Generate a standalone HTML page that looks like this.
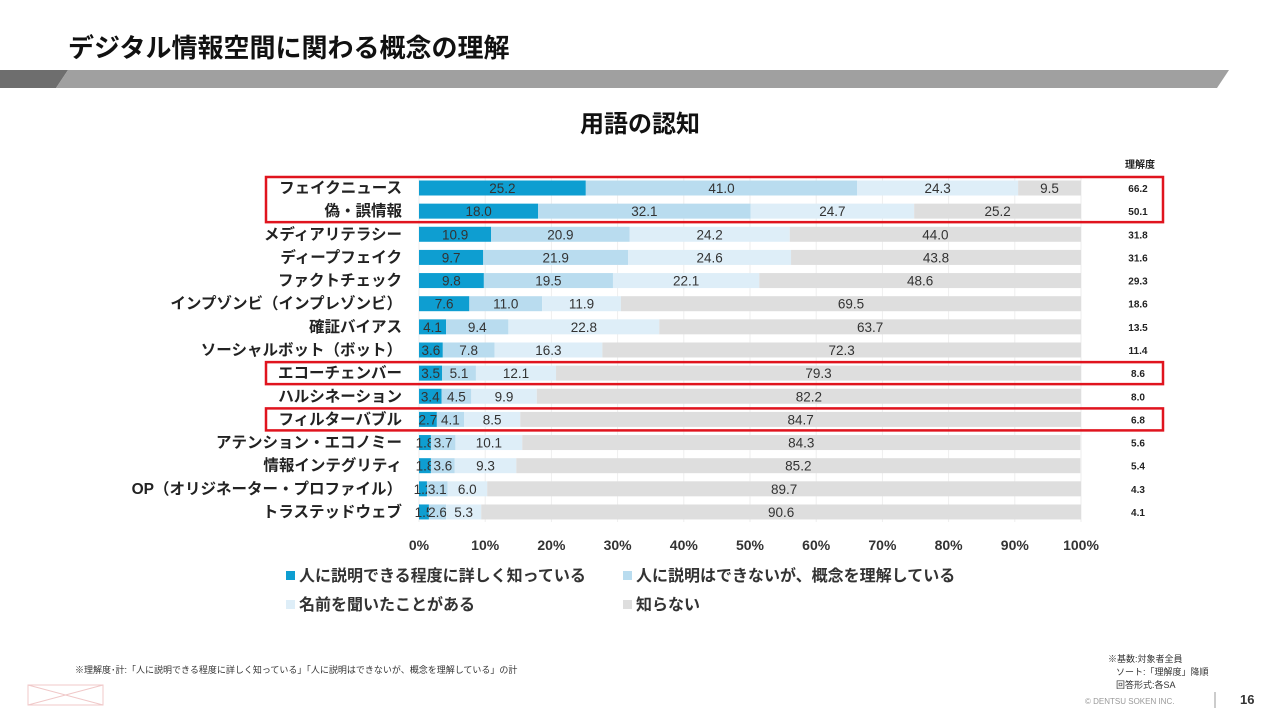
<!DOCTYPE html>
<html><head><meta charset="utf-8">
<style>
body{margin:0;width:1280px;height:720px;background:#fff;overflow:hidden;font-family:"Liberation Sans","Noto Sans CJK JP",sans-serif;}
svg text{font-family:"Liberation Sans","Noto Sans CJK JP",sans-serif;}
</style></head><body>
<svg width="1280" height="720" viewBox="0 0 1280 720">
<text x="68" y="57" font-size="26" font-weight="bold" fill="#111">デジタル情報空間に関わる概念の理解</text>
<polygon points="0,70 68,70 56,88 0,88" fill="#6e6e6e"/>
<polygon points="68,70 1229,70 1217,88 56,88" fill="#a0a0a0"/>
<text x="640" y="132" font-size="24" font-weight="bold" text-anchor="middle" fill="#111">用語の認知</text>
<text x="1140" y="168" font-size="10" text-anchor="middle" fill="#222" font-weight="bold">理解度</text>
<g id="chart"></g>
<g>
<rect x="286" y="571" width="9" height="9" fill="#0e9ed1"/>
<text x="299" y="581" font-size="16" font-weight="bold" fill="#333">人に説明できる程度に詳しく知っている</text>
<rect x="623" y="571" width="9" height="9" fill="#b9dcef"/>
<text x="636" y="581" font-size="16" font-weight="bold" fill="#333">人に説明はできないが、概念を理解している</text>
<rect x="286" y="600" width="9" height="9" fill="#deeef8"/>
<text x="299" y="610" font-size="16" font-weight="bold" fill="#333">名前を聞いたことがある</text>
<rect x="623" y="600" width="9" height="9" fill="#dedede"/>
<text x="636" y="610" font-size="16" font-weight="bold" fill="#333">知らない</text>
</g>
<text x="75" y="673" font-size="9" fill="#333">※理解度･計:「人に説明できる程度に詳しく知っている」「人に説明はできないが、概念を理解している」の計</text>
<text x="1108" y="662" font-size="9" fill="#333">※基数:対象者全員</text>
<text x="1116" y="675" font-size="9" fill="#333">ソート:「理解度」降順</text>
<text x="1116" y="688" font-size="9" fill="#333">回答形式:各SA</text>
<text x="1085" y="704" font-size="8" fill="#999">© DENTSU SOKEN INC.</text>
<line x1="1215" y1="692" x2="1215" y2="708" stroke="#999"/>
<text x="1240" y="704" font-size="13" font-weight="bold" fill="#333">16</text>
<g stroke="#f0c8c8" fill="none"><rect x="28" y="685" width="75" height="20"/><line x1="28" y1="685" x2="103" y2="705"/><line x1="28" y1="705" x2="103" y2="685"/></g>
</svg>
<script>
const categories=["フェイクニュース","偽・誤情報","メディアリテラシー","ディープフェイク","ファクトチェック","インプゾンビ（インプレゾンビ）","確証バイアス","ソーシャルボット（ボット）","エコーチェンバー","ハルシネーション","フィルターバブル","アテンション・エコノミー","情報インテグリティ","OP（オリジネーター・プロファイル）","トラステッドウェブ"];
const detailed=[25.2,18.0,10.9,9.7,9.8,7.6,4.1,3.6,3.5,3.4,2.7,1.8,1.8,1.2,1.5];
const understand=[41.0,32.1,20.9,21.9,19.5,11.0,9.4,7.8,5.1,4.5,4.1,3.7,3.6,3.1,2.6];
const heard=[24.3,24.7,24.2,24.6,22.1,11.9,22.8,16.3,12.1,9.9,8.5,10.1,9.3,6.0,5.3];
const unknown=[9.5,25.2,44.0,43.8,48.6,69.5,63.7,72.3,79.3,82.2,84.7,84.3,85.2,89.7,90.6];
const rikaido=[66.2,50.1,31.8,31.6,29.3,18.6,13.5,11.4,8.6,8.0,6.8,5.6,5.4,4.3,4.1];
const ticks=[0,10,20,30,40,50,60,70,80,90,100];
const highlighted=[[0,1],[8,8],[10,10]];
const NS="http://www.w3.org/2000/svg";
const g=document.getElementById('chart');
const x0=419,x1=1081,y0=188,step=23.14,bh=15;
const xs=v=>x0+(x1-x0)*v/100;
const ys=i=>y0+i*step;
function mk(t,a){const e=document.createElementNS(NS,t);for(const k in a)e.setAttribute(k,a[k]);g.appendChild(e);return e;}
ticks.forEach(t=>{
 const l=mk('line',{x1:xs(t),x2:xs(t),y1:178,y2:522,stroke:'#eeeeee'});
 
 
 const tx=mk('text',{x:xs(t),y:550,'font-size':14,'font-weight':'bold','text-anchor':'middle',fill:'#333'});
 tx.textContent=t+'%';
 
 
});
const series=[[detailed,'#0e9ed1'],[understand,'#b9dcef'],[heard,'#deeef8'],[unknown,'#dedede']];
categories.forEach((c,i)=>{
 const y=ys(i);
 const lb=mk('text',{x:402,y:y+5,'font-size':15.5,'font-weight':'bold','text-anchor':'end',fill:'#222'});
 lb.textContent=c;
 
 
 let acc=0;
 series.forEach(([arr,col],si)=>{
  const v=arr[i];
  const r=mk('rect',{x:xs(acc),y:y-bh/2,width:xs(acc+v)-xs(acc),height:bh,fill:col});
  
  
  const vt=mk('text',{x:(xs(acc)+xs(acc+v))/2,y:y+5,'font-size':13.5,'text-anchor':'middle',fill:'#333'});
  vt.textContent=v.toFixed(1);
  
  
  acc+=v;
 });
 const rk=mk('text',{x:1138,y:y+4,'font-size':10,'font-weight':'bold','text-anchor':'middle',fill:'#222'});
 rk.textContent=rikaido[i].toFixed(1);
 
 
});
highlighted.forEach(([a,b])=>{
 const r=mk('rect',{x:266,y:ys(a)-11,width:897,height:ys(b)-ys(a)+22,fill:'none',stroke:'#e0141e','stroke-width':2.5});
 
 
});
</script>
</body></html>
